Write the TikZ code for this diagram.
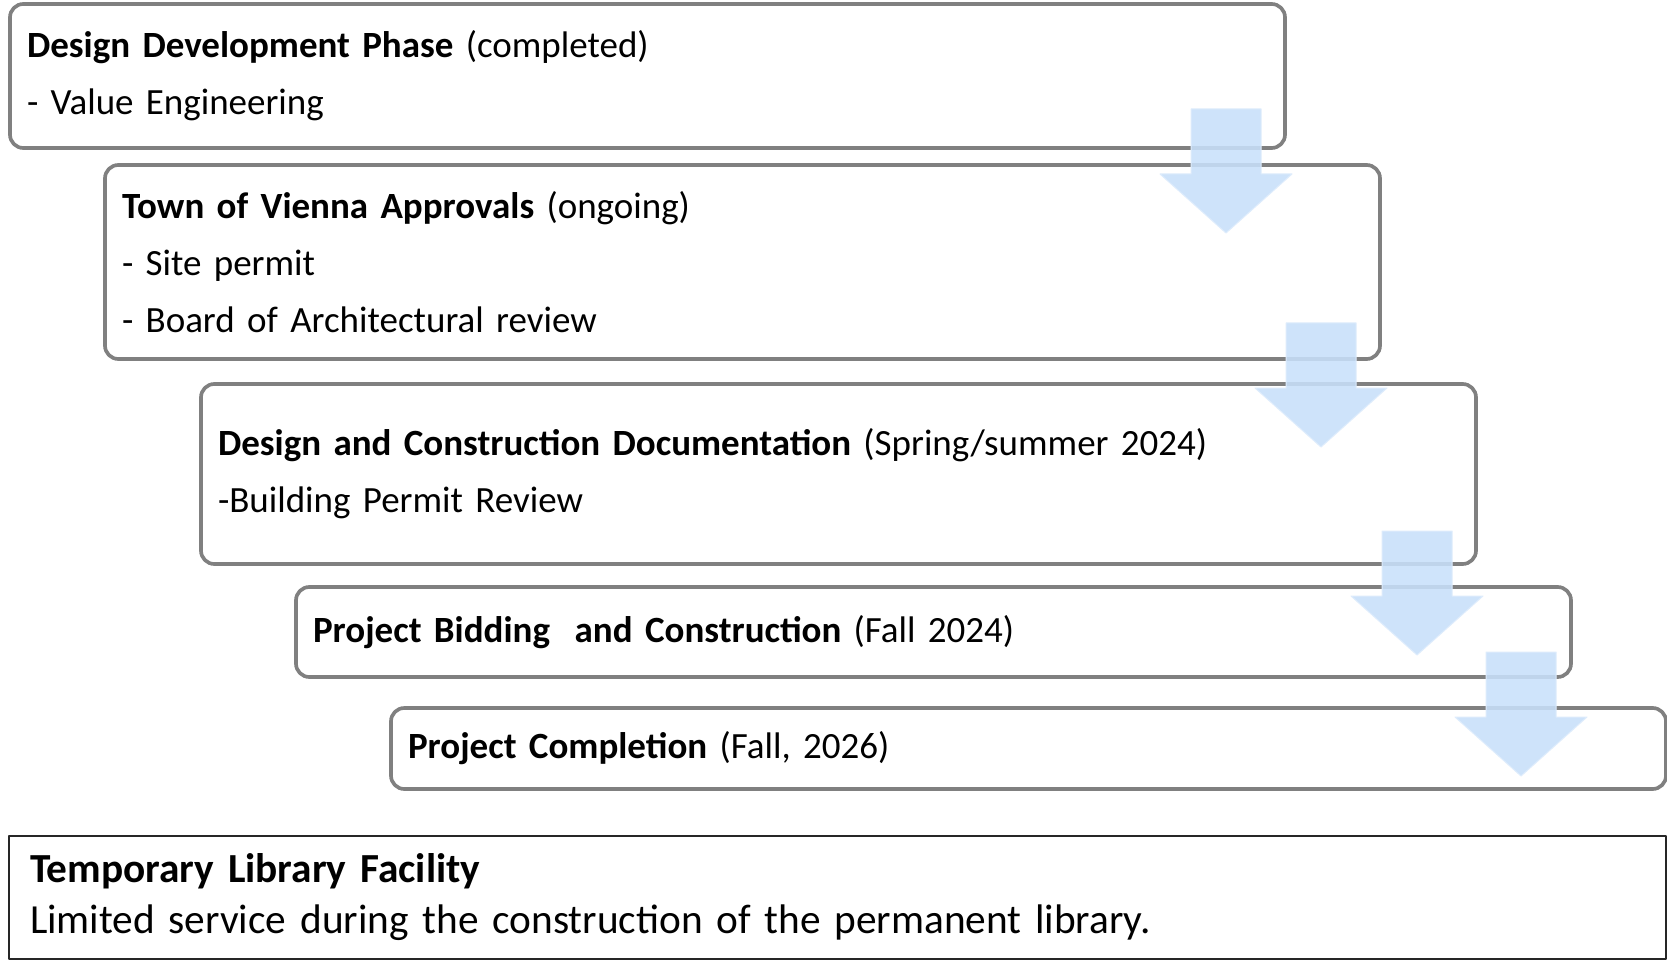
\documentclass[tikz,border=0pt]{standalone}
\usepackage{fontspec}
\setmainfont{Carlito}
\usetikzlibrary{calc}
\definecolor{boxgray}{RGB}{128,128,128}
\definecolor{arrowblue}{RGB}{200,224,250}
\newcommand\stagefont{\fontsize{22.2pt}{34.2pt}\selectfont\spaceskip=0.2em\relax}
\begin{document}
\begin{tikzpicture}[x=0.6pt,y=-0.6pt,line join=round,
	stage/.style={draw=boxgray,line width=2.2pt,rounded corners=8pt,fill=white,anchor=north west,outer sep=0pt,inner xsep=10.2pt,inner ysep=0pt,align=left,text width=744.6pt,minimum width=765pt,font=\stagefont},
	flow/.style={fill=arrowblue,fill opacity=0.88,draw=arrowblue!60!white,line width=0.6pt}]
	\useasboundingbox (0,0) rectangle (1667,961);
	\node[stage,minimum height=86.4pt] (b1) at (10,4) {\textbf{Design Development Phase} (completed)\\- Value Engineering};
	\node[stage,minimum height=116.4pt] (b2) at (105,165) {\textbf{Town of Vienna Approvals} (ongoing)\\- Site permit\\- Board of Architectural review};
	\node[stage,minimum height=108pt] (b3) at (201,384) {\textbf{Design and Construction Documentation} (Spring/summer 2024)\\-Building Permit Review};
	\node[stage,minimum height=54pt,minimum width=763.8pt] (b4) at (296,587) {\textbf{Project Bidding\ \ and Construction} (Fall 2024)};
	\node[stage,minimum height=48.6pt,minimum width=763.8pt] (b5) at (391,708) {\textbf{Project Completion} (Fall, 2026)};
	\node[draw=black!85,line width=1.5pt,anchor=north west,outer sep=0pt,inner xsep=12.6pt,inner ysep=0pt,align=left,text width=969pt,minimum width=994.2pt,minimum height=73.8pt,font=\fontsize{24.8pt}{30.6pt}\selectfont] (temp) at (9,836) {\textbf{Temporary Library Facility}\\Limited service during the construction of the permanent library.};
	\foreach \b/\dx/\dy in {b1/-59/-39,b2/-59/-36,b3/-59/-33,b4/-50/-25}
	\draw[flow] ($(\b.south east)+(\dx-35,\dy)$) -- ++(70,0) -- ++(0,65) -- ++(31,0) -- ++(-66,59) -- ++(-66,-59) -- ++(31,0) -- cycle;
\end{tikzpicture}
\end{document}
